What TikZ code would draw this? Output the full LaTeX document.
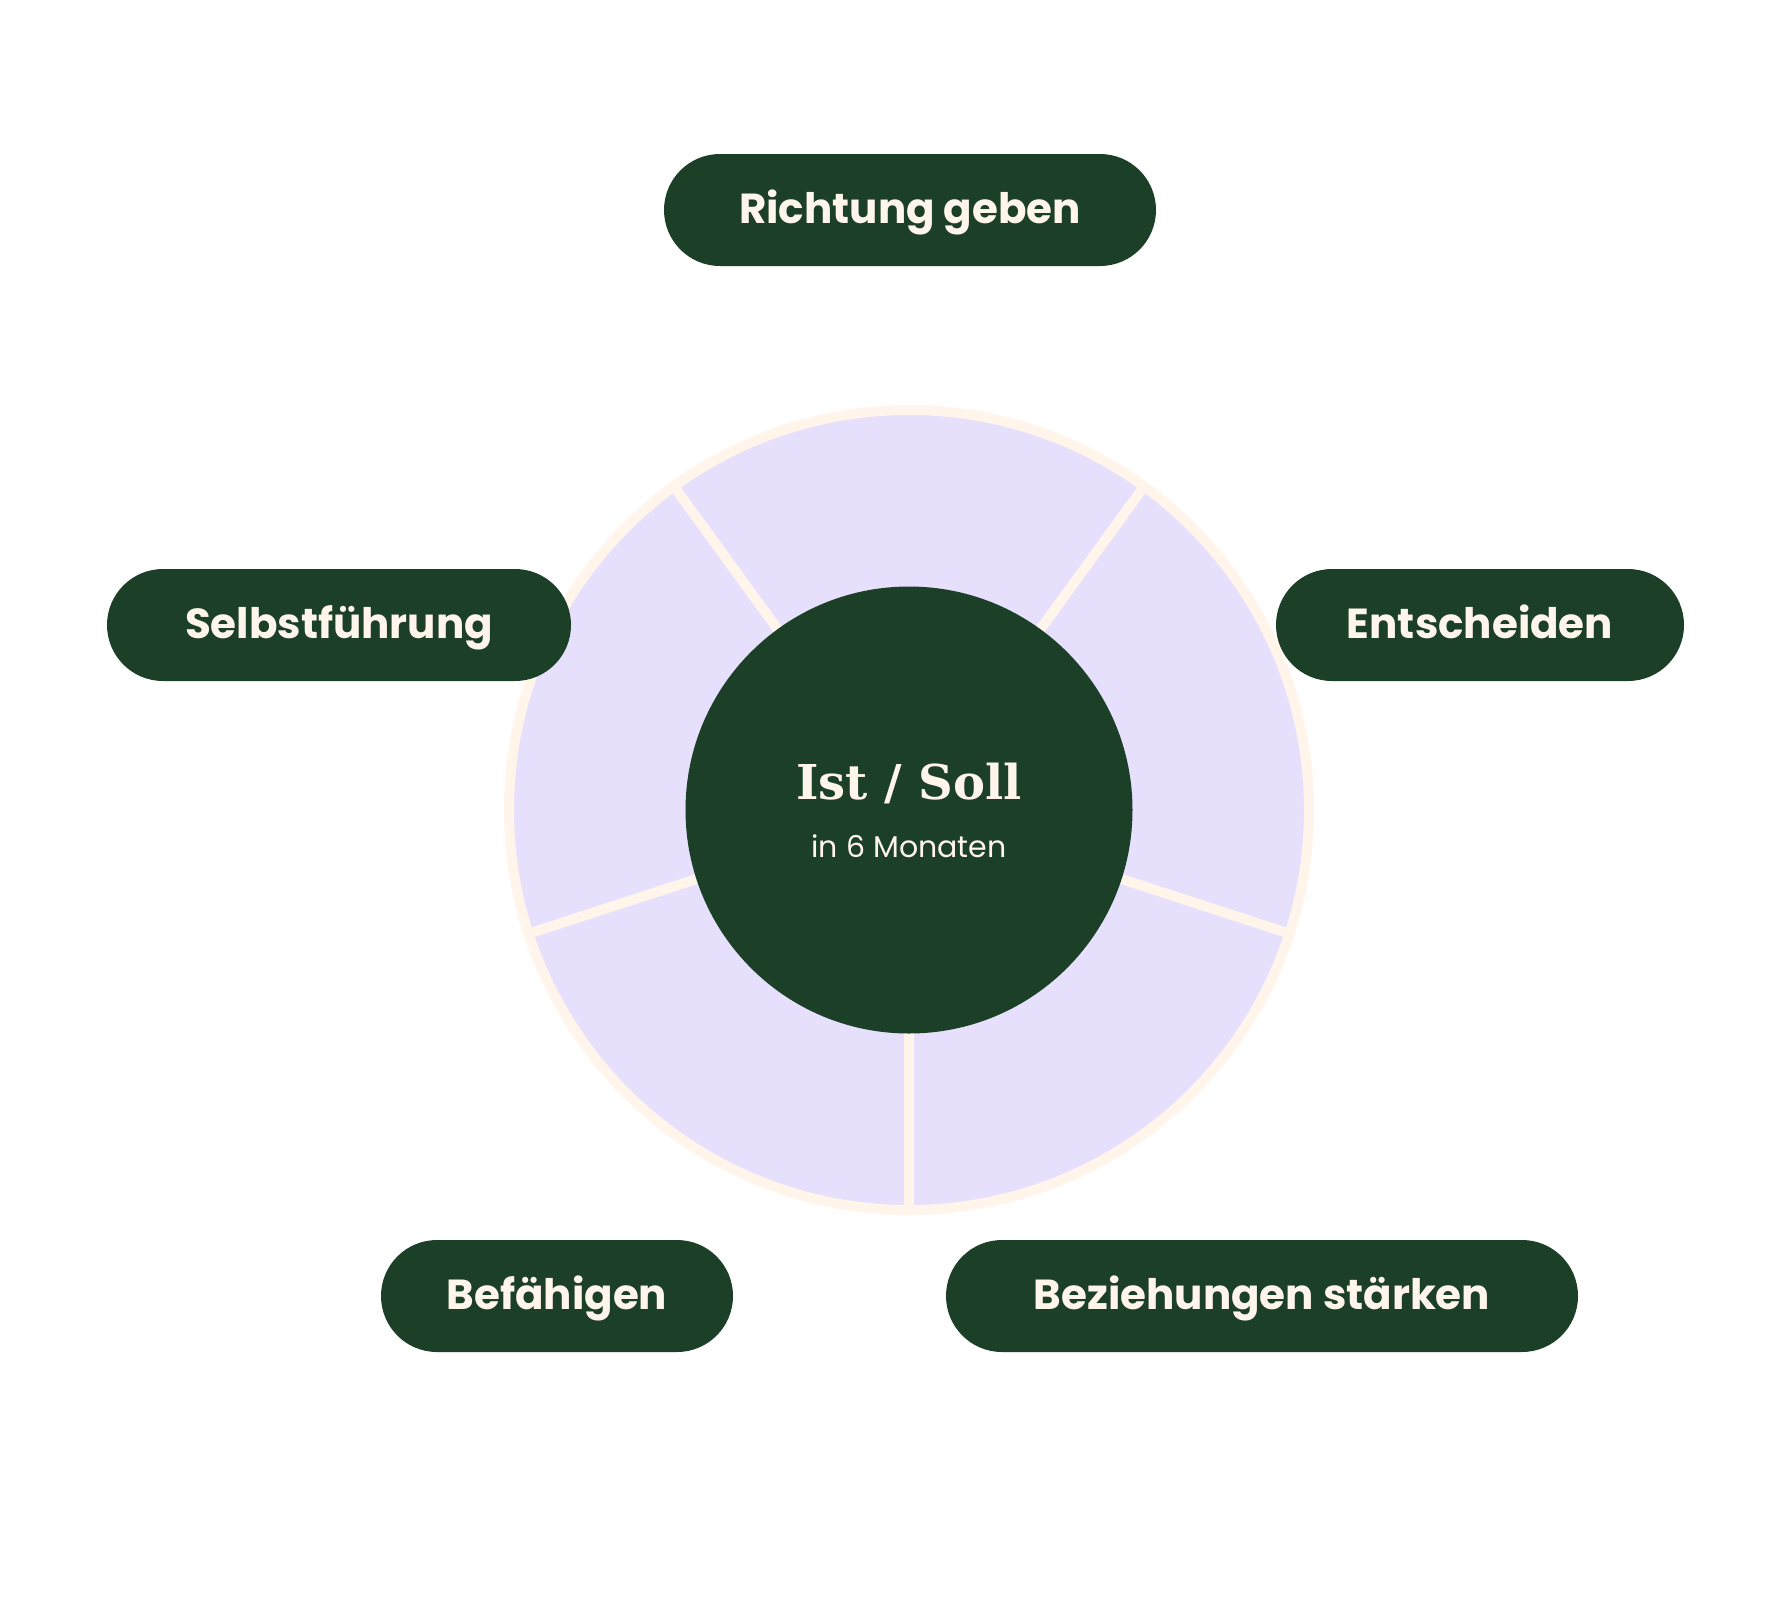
\documentclass[tikz,border=0pt]{standalone}
\usepackage{fontspec}
\newfontfamily\pop{Poppins}
\newfontfamily\ser{DejaVu Serif}
\definecolor{dkgreen}{HTML}{1C3F27}
\definecolor{lav}{HTML}{E6E0FD}
\definecolor{cream}{HTML}{FFF5EB}
\tikzset{
  pill/.style={fill=dkgreen, rounded corners=56pt, minimum height=112pt, inner sep=0pt,
    text height=28pt, text depth=2pt, text=cream, font=\pop\bfseries\fontsize{42}{46}\selectfont},
  spoke/.style={draw=cream, line width=10pt},
}
\begin{document}
\begin{tikzpicture}[x=1pt,y=-1pt]
\useasboundingbox (0,0) rectangle (1791,1612);
\fill[white] (0,0) rectangle (1791,1612);
\coordinate (c) at (909,810);
\node[circle, fill=lav, draw=cream, line width=10pt, minimum size=800pt, inner sep=0pt, outer sep=0pt] (ring) at (c) {};
\foreach \a in {126,54,-18,-90,198} \draw[spoke] (ring.center) -- (ring.\a);
\node[circle, fill=dkgreen, minimum size=447pt, inner sep=0pt] (core) at (c) {};
\node[anchor=base, inner sep=0pt, text=cream, font=\ser\bfseries\fontsize{48}{54}\selectfont] (ist) at (909,799) {Ist / Soll};
\node[anchor=base, inner sep=0pt, text=cream, font=\pop\fontsize{30}{34}\selectfont] (mon) at (909,857) {in 6 Monaten};
\node[pill, minimum width=492pt] (rg) at (910,210) {Richtung geben};
\node[pill, minimum width=464pt] (sf) at (339,625) {Selbstführung};
\node[pill, minimum width=408pt] (en) at (1480,625) {Entscheiden};
\node[pill, minimum width=352pt] (bf) at (557,1296) {Befähigen};
\node[pill, minimum width=632pt] (bz) at (1262,1296) {Beziehungen stärken};
\end{tikzpicture}
\end{document}
